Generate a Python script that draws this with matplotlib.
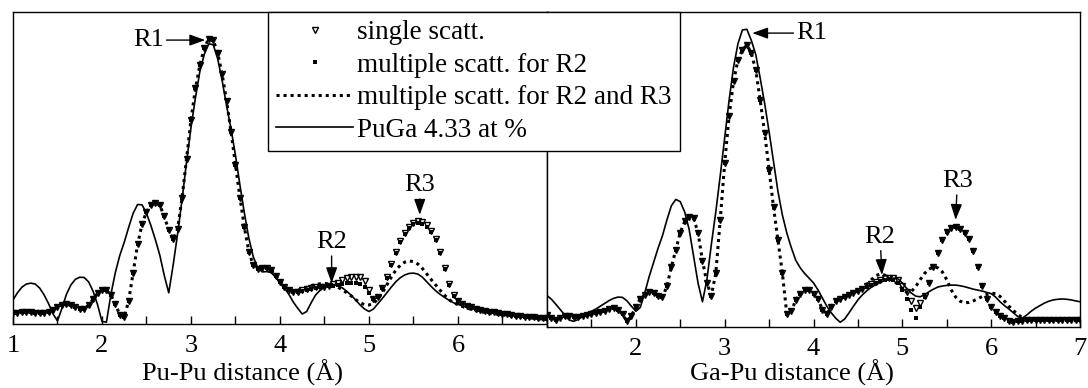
import numpy as np
import matplotlib.pyplot as plt

plt.rcParams['font.family'] = 'Liberation Serif'
plt.rcParams['mathtext.fontset'] = 'stix'

# sample positions (Angstrom), same grid for every curve
r = np.round(np.linspace(1.0, 7.0, 121), 2)

# ---- Pu-Pu (left panel) ----
# experiment, PuGa 4.33 at %
exp_l = np.array([
    0.077, 0.100, 0.118, 0.128, 0.131, 0.128, 0.115, 0.093, 0.065, 0.032,
    0.010, 0.050, 0.095, 0.125, 0.143, 0.150, 0.149, 0.135, 0.105, 0.062,
    0.008, 0.006, 0.095, 0.165, 0.220, 0.262, 0.310, 0.355, 0.383, 0.382,
    0.355, 0.315, 0.270, 0.220, 0.155, 0.100, 0.190, 0.290, 0.400, 0.520,
    0.630, 0.725, 0.810, 0.865, 0.898, 0.895, 0.850, 0.780, 0.700, 0.625,
    0.540, 0.445, 0.355, 0.275, 0.215, 0.180, 0.167, 0.168, 0.165, 0.150,
    0.132, 0.115, 0.095, 0.070, 0.050, 0.032, 0.040, 0.068, 0.093, 0.108,
    0.118, 0.123, 0.125, 0.123, 0.116, 0.105, 0.092, 0.077, 0.061, 0.048,
    0.040, 0.048, 0.065, 0.082, 0.100, 0.118, 0.135, 0.148, 0.157, 0.162,
    0.163, 0.160, 0.150, 0.135, 0.120, 0.106, 0.095, 0.085, 0.076, 0.068,
    0.063, 0.058, 0.054, 0.050, 0.046, 0.043, 0.040, 0.037, 0.035, 0.033,
    0.031, 0.029, 0.027, 0.025, 0.023, 0.021, 0.019, 0.017, 0.015, 0.014,
    0.013])

# multiple scattering for R2 and R3
ms23_l = np.array([
    0.035, 0.036, 0.037, 0.038, 0.038, 0.036, 0.034, 0.034, 0.037, 0.046,
    0.055, 0.061, 0.063, 0.060, 0.053, 0.047, 0.049, 0.060, 0.080, 0.098,
    0.108, 0.108, 0.093, 0.063, 0.030, 0.022, 0.075, 0.165, 0.255, 0.320,
    0.360, 0.380, 0.388, 0.380, 0.345, 0.300, 0.272, 0.305, 0.405, 0.530,
    0.655, 0.755, 0.830, 0.885, 0.915, 0.910, 0.868, 0.800, 0.715, 0.615,
    0.510, 0.405, 0.310, 0.232, 0.188, 0.176, 0.178, 0.180, 0.172, 0.155,
    0.136, 0.120, 0.110, 0.106, 0.108, 0.113, 0.118, 0.123, 0.127, 0.129,
    0.130, 0.128, 0.124, 0.118, 0.110, 0.100, 0.090, 0.078, 0.068, 0.062,
    0.061, 0.066, 0.080, 0.100, 0.125, 0.150, 0.172, 0.188, 0.198, 0.202,
    0.200, 0.192, 0.178, 0.160, 0.142, 0.125, 0.108, 0.092, 0.078, 0.068,
    0.062, 0.056, 0.051, 0.047, 0.043, 0.040, 0.037, 0.035, 0.033, 0.031,
    0.029, 0.028, 0.026, 0.025, 0.023, 0.022, 0.020, 0.019, 0.018, 0.016,
    0.015])

# single scattering, differs from 4.10 A on
single_tail_l = [
    0.108, 0.104, 0.104, 0.108, 0.112, 0.115, 0.117, 0.118,
    0.120, 0.123, 0.127, 0.133, 0.140, 0.146, 0.150, 0.152, 0.150, 0.138,
    0.110, 0.080, 0.085, 0.115, 0.150, 0.192, 0.232, 0.265, 0.292, 0.312,
    0.324, 0.329, 0.326, 0.316, 0.298, 0.272, 0.230, 0.180, 0.128, 0.092,
    0.074, 0.065, 0.058, 0.053, 0.049, 0.045, 0.042, 0.039, 0.037, 0.035,
    0.033, 0.031, 0.029, 0.027, 0.026, 0.024, 0.023, 0.021, 0.020, 0.019,
    0.018]
# multiple scattering for R2, 4.10 .. 5.95 A (rest as single)
ms2_part_l = [
    0.108, 0.104, 0.104, 0.107, 0.110, 0.113, 0.115, 0.117,
    0.119, 0.121, 0.123, 0.125, 0.128, 0.130, 0.132, 0.132, 0.128, 0.118,
    0.098, 0.080, 0.088, 0.115, 0.148, 0.188, 0.228, 0.262, 0.288, 0.308,
    0.320, 0.325, 0.322, 0.312, 0.294, 0.268, 0.226, 0.176, 0.126, 0.090]

# ---- Ga-Pu (right panel) ----
exp_r = np.array([
    0.100, 0.088, 0.072, 0.055, 0.038, 0.022, 0.018, 0.024, 0.033, 0.042,
    0.050, 0.057, 0.066, 0.075, 0.084, 0.091, 0.095, 0.094, 0.083, 0.066,
    0.050, 0.062, 0.108, 0.160, 0.205, 0.250, 0.290, 0.340, 0.385, 0.405,
    0.398, 0.365, 0.310, 0.225, 0.140, 0.080, 0.150, 0.262, 0.365, 0.480,
    0.600, 0.720, 0.825, 0.900, 0.943, 0.945, 0.910, 0.865, 0.790, 0.710,
    0.620, 0.525, 0.430, 0.355, 0.298, 0.252, 0.212, 0.188, 0.170, 0.155,
    0.140, 0.118, 0.092, 0.066, 0.045, 0.028, 0.015, 0.025, 0.045, 0.066,
    0.086, 0.102, 0.115, 0.126, 0.134, 0.141, 0.147, 0.152, 0.155, 0.153,
    0.140, 0.122, 0.108, 0.098, 0.096, 0.102, 0.112, 0.120, 0.127, 0.130,
    0.132, 0.133, 0.133, 0.131, 0.128, 0.124, 0.120, 0.117, 0.114, 0.110,
    0.106, 0.095, 0.080, 0.068, 0.057, 0.045, 0.033, 0.028, 0.038, 0.050,
    0.060, 0.068, 0.076, 0.082, 0.086, 0.088, 0.089, 0.088, 0.086, 0.083,
    0.080])

ms23_r = np.array([
    0.038, 0.030, 0.022, 0.028, 0.035, 0.034, 0.031, 0.032, 0.035, 0.038,
    0.041, 0.044, 0.047, 0.052, 0.058, 0.060, 0.055, 0.040, 0.018, 0.035,
    0.065, 0.090, 0.103, 0.110, 0.108, 0.098, 0.094, 0.130, 0.190, 0.245,
    0.300, 0.335, 0.350, 0.345, 0.300, 0.210, 0.140, 0.100, 0.170, 0.340,
    0.520, 0.670, 0.780, 0.848, 0.880, 0.895, 0.870, 0.815, 0.720, 0.616,
    0.500, 0.380, 0.275, 0.170, 0.040, 0.050, 0.085, 0.105, 0.116, 0.116,
    0.106, 0.090, 0.055, 0.040, 0.065, 0.082, 0.090, 0.096, 0.101, 0.108,
    0.115, 0.122, 0.135, 0.150, 0.163, 0.168, 0.165, 0.158, 0.148, 0.135,
    0.122, 0.110, 0.112, 0.128, 0.150, 0.170, 0.184, 0.190, 0.188, 0.175,
    0.150, 0.118, 0.095, 0.082, 0.077, 0.078, 0.083, 0.090, 0.097, 0.103,
    0.107, 0.106, 0.097, 0.082, 0.066, 0.052, 0.040, 0.030, 0.024, 0.022,
    0.022, 0.021, 0.022, 0.021, 0.022, 0.021, 0.020, 0.021, 0.020, 0.020,
    0.020])

# single scattering from 4.60 A on
single_tail_r = [
    0.130, 0.137, 0.144, 0.150, 0.154, 0.156, 0.155, 0.148,
    0.130, 0.110, 0.082, 0.060, 0.075, 0.100, 0.140, 0.190, 0.235, 0.275,
    0.302, 0.315, 0.318, 0.312, 0.300, 0.280, 0.240, 0.190, 0.130, 0.090,
    0.065, 0.048, 0.035, 0.027, 0.020, 0.017, 0.018, 0.020, 0.021, 0.022,
    0.022, 0.023, 0.022, 0.023, 0.022, 0.023, 0.022, 0.022, 0.023, 0.022,
    0.022]
# multiple scattering for R2, 4.60 .. 5.25 A
ms2_part_r = [0.128, 0.134, 0.140, 0.146, 0.150, 0.152, 0.150, 0.140,
              0.118, 0.090, 0.055, 0.030, 0.062, 0.095]

iL = np.searchsorted(r, 4.1)
single_l = ms23_l.copy()
single_l[iL:] = single_tail_l
ms2_l = single_l.copy()
ms2_l[iL:iL + len(ms2_part_l)] = ms2_part_l

iR = np.searchsorted(r, 4.6)
single_r = ms23_r.copy()
single_r[iR:] = single_tail_r
ms2_r = single_r.copy()
ms2_r[iR:iR + len(ms2_part_r)] = ms2_part_r

labels = ['single scatt.', 'multiple scatt. for R2',
          'multiple scatt. for R2 and R3', 'PuGa 4.33 at %']

fs = 19
fig = plt.figure(figsize=(10.88, 3.88), dpi=100)
axL = fig.add_axes([13/1088, 64/388, 534/1088, 312/388])
axR = fig.add_axes([547/1088, 61/388, 533/1088, 315/388])


def draw(ax, exp, ms23, ms2, single):
    h4, = ax.plot(r, exp, '-', color='k', lw=1.2)
    h3, = ax.plot(r, ms23, linestyle=(0, (1, 1.3)), color='k', lw=2.2)
    h2, = ax.plot(r, ms2, 's', ms=2.4, color='k', mew=0)
    h1, = ax.plot(r, single, 'v', ms=4, mfc='none', mec='k', mew=1)
    ax.set_xlim(1, 7)
    ax.set_ylim(0, 1)
    ax.set_yticks([])
    ax.set_xticks(np.arange(1.5, 7.0, 1.0), minor=True)
    ax.tick_params(axis='x', which='both', direction='in', length=6,
                   width=1, pad=8, labelsize=fs)
    for s in ax.spines.values():
        s.set_linewidth(1)
    return [h1, h2, h3, h4]


handles = draw(axL, exp_l, ms23_l, ms2_l, single_l)
draw(axR, exp_r, ms23_r, ms2_r, single_r)

axL.set_xticks([1, 2, 3, 4, 5, 6, 7])
axL.set_xticklabels(['1', '2', '3', '4', '5', '6', ''])
axR.set_xticks([1, 2, 3, 4, 5, 6, 7])
axR.set_xticklabels(['', '2', '3', '4', '5', '6', '7'])

# axis titles sit just above the bottom edge of the figure
axL.set_xlabel('Pu-Pu distance (Å)', fontsize=fs, va='bottom')
axL.xaxis.set_label_coords(0.43, -62/312, transform=axL.transAxes)
axR.set_xlabel('Ga-Pu distance (Å)', fontsize=fs, va='bottom')
axR.xaxis.set_label_coords(0.46, -59/315, transform=axR.transAxes)

arrow = dict(arrowstyle='-|>,head_length=0.5,head_width=0.18', color='k',
             lw=1, shrinkA=0, shrinkB=0)
axL.annotate('R1', xy=(3.16, 0.91), xytext=(2.52, 0.91), fontsize=fs,
             ha='center', va='center', arrowprops=arrow)
axL.annotate('R2', xy=(4.58, 0.131), xytext=(4.58, 0.262), fontsize=fs,
             ha='center', va='center', arrowprops=arrow)
axL.annotate('R3', xy=(5.57, 0.35), xytext=(5.57, 0.445), fontsize=fs,
             ha='center', va='center', arrowprops=arrow)
axR.annotate('R1', xy=(3.31, 0.933), xytext=(3.98, 0.933), fontsize=fs,
             ha='center', va='center', arrowprops=arrow)
axR.annotate('R2', xy=(4.77, 0.165), xytext=(4.75, 0.286), fontsize=fs,
             ha='center', va='center', arrowprops=arrow)
axR.annotate('R3', xy=(5.6, 0.34), xytext=(5.62, 0.463), fontsize=fs,
             ha='center', va='center', arrowprops=arrow)

leg = fig.legend(handles, labels, loc='upper left',
                 bbox_to_anchor=(268/1088, 1 - 12/388), borderaxespad=0,
                 fontsize=19.5, frameon=True, fancybox=False, framealpha=1,
                 edgecolor='k', handlelength=2.85, handletextpad=0.15,
                 borderpad=0.3, labelspacing=0.28)
leg.get_frame().set_linewidth(1)

fig.savefig('out.png', dpi=100)
